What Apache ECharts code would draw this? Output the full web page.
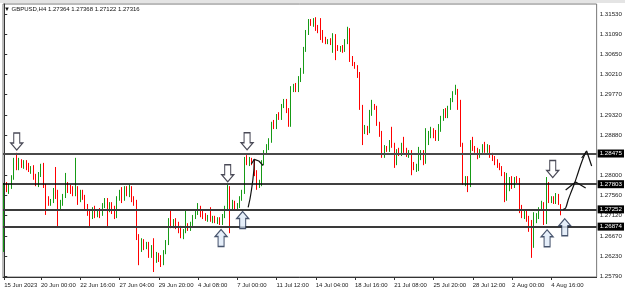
<!DOCTYPE html>
<html><head><meta charset="utf-8">
<script src="https://cdn.jsdelivr.net/npm/echarts@6/dist/echarts.min.js"></script>
<style>html,body{margin:0;padding:0;background:#fff;overflow:hidden}#c{width:625px;height:293px}</style>
</head><body><div id="c"></div>
<script>
const header = '\u25BC GBPUSD,H4 1.27364 1.27368 1.27122 1.27316';
const tickLabels = ['15 Jun 2023','20 Jun 00:00','22 Jun 16:00','27 Jun 04:00','29 Jun 20:00','4 Jul 08:00','7 Jul 00:00','11 Jul 12:00','14 Jul 04:00','18 Jul 16:00','21 Jul 08:00','25 Jul 20:00','28 Jul 12:00','2 Aug 00:00','4 Aug 16:00'];
const tickIndex = [0,15,31,47,63,79,95,111,127,143,159,175,191,207,223];
const slotCount = 242;
const priceTicks = [1.31530,1.31090,1.30650,1.30210,1.29770,1.29320,1.28880,1.28000,1.27560,1.27120,1.26670,1.26230,1.25790];
const priceMin = 1.25771, priceMax = 1.31749;
// [open, high, low, close]
const bars = [
[1.2641,1.2783,1.2632,1.2776],[1.2776,1.2785,1.2763,1.2770],[1.2770,1.2781,1.2759,1.2776],[1.2776,1.2800,1.2770,1.2794],
[1.2794,1.2838,1.2790,1.2829],[1.2829,1.2849,1.2811,1.2818],[1.2818,1.2838,1.2811,1.2831],[1.2831,1.2835,1.2816,1.2822],
[1.2822,1.2833,1.2814,1.2827],[1.2827,1.2833,1.2811,1.2816],[1.2816,1.2827,1.2807,1.2811],[1.2811,1.2820,1.2803,1.2818],
[1.2818,1.2822,1.2790,1.2796],[1.2796,1.2803,1.2776,1.2785],[1.2785,1.2807,1.2774,1.2800],[1.2800,1.2825,1.2796,1.2820],
[1.2820,1.2827,1.2772,1.2776],[1.2776,1.2781,1.2713,1.2746],[1.2746,1.2754,1.2733,1.2739],[1.2739,1.2748,1.2733,1.2744],
[1.2744,1.2772,1.2739,1.2768],[1.2768,1.2818,1.2748,1.2754],[1.2754,1.2768,1.2687,1.2728],[1.2728,1.2746,1.2722,1.2739],
[1.2739,1.2759,1.2733,1.2754],[1.2754,1.2805,1.2750,1.2781],[1.2781,1.2785,1.2761,1.2768],[1.2768,1.2779,1.2759,1.2763],
[1.2763,1.2776,1.2754,1.2759],[1.2759,1.2838,1.2754,1.2772],[1.2772,1.2776,1.2735,1.2746],[1.2746,1.2768,1.2741,1.2761],
[1.2761,1.2768,1.2746,1.2750],[1.2750,1.2757,1.2724,1.2730],[1.2730,1.2737,1.2711,1.2717],[1.2717,1.2724,1.2687,1.2708],
[1.2708,1.2730,1.2704,1.2726],[1.2726,1.2733,1.2706,1.2713],[1.2713,1.2726,1.2708,1.2722],[1.2722,1.2728,1.2706,1.2715],
[1.2715,1.2739,1.2711,1.2735],[1.2735,1.2750,1.2728,1.2746],[1.2746,1.2750,1.2687,1.2724],[1.2724,1.2741,1.2719,1.2737],
[1.2737,1.2741,1.2715,1.2722],[1.2722,1.2733,1.2704,1.2711],[1.2711,1.2754,1.2706,1.2750],[1.2750,1.2768,1.2744,1.2763],
[1.2763,1.2774,1.2739,1.2748],[1.2748,1.2776,1.2744,1.2770],[1.2770,1.2776,1.2754,1.2759],[1.2759,1.2779,1.2752,1.2772],
[1.2772,1.2776,1.2741,1.2748],[1.2748,1.2754,1.2733,1.2739],[1.2739,1.2746,1.2658,1.2665],[1.2665,1.2671,1.2603,1.2636],
[1.2636,1.2662,1.2632,1.2656],[1.2656,1.2660,1.2636,1.2643],[1.2643,1.2654,1.2638,1.2649],[1.2649,1.2654,1.2619,1.2625],
[1.2625,1.2647,1.2619,1.2643],[1.2643,1.2662,1.2588,1.2614],[1.2614,1.2632,1.2608,1.2625],[1.2625,1.2630,1.2610,1.2616],
[1.2616,1.2625,1.2599,1.2610],[1.2610,1.2636,1.2603,1.2632],[1.2632,1.2658,1.2627,1.2652],[1.2652,1.2706,1.2647,1.2702],
[1.2702,1.2724,1.2684,1.2691],[1.2691,1.2704,1.2684,1.2700],[1.2700,1.2706,1.2682,1.2689],[1.2689,1.2698,1.2673,1.2680],
[1.2680,1.2689,1.2662,1.2667],[1.2667,1.2682,1.2660,1.2678],[1.2678,1.2724,1.2673,1.2687],[1.2687,1.2695,1.2678,1.2682],
[1.2682,1.2698,1.2678,1.2693],[1.2693,1.2713,1.2689,1.2708],[1.2708,1.2722,1.2704,1.2717],[1.2717,1.2739,1.2713,1.2728],
[1.2728,1.2733,1.2708,1.2715],[1.2715,1.2722,1.2704,1.2708],[1.2708,1.2717,1.2700,1.2704],[1.2704,1.2713,1.2698,1.2708],
[1.2708,1.2730,1.2698,1.2702],[1.2702,1.2711,1.2695,1.2706],[1.2706,1.2711,1.2695,1.2700],[1.2700,1.2708,1.2693,1.2704],
[1.2704,1.2708,1.2691,1.2695],[1.2695,1.2715,1.2691,1.2711],[1.2711,1.2733,1.2706,1.2726],[1.2726,1.2779,1.2722,1.2772],
[1.2772,1.2776,1.2673,1.2728],[1.2728,1.2746,1.2722,1.2739],[1.2739,1.2744,1.2724,1.2730],[1.2730,1.2739,1.2724,1.2735],
[1.2735,1.2754,1.2728,1.2748],[1.2748,1.2768,1.2744,1.2763],[1.2763,1.2840,1.2759,1.2833],[1.2833,1.2844,1.2822,1.2827],
[1.2827,1.2840,1.2820,1.2833],[1.2833,1.2838,1.2822,1.2829],[1.2829,1.2833,1.2798,1.2805],[1.2805,1.2811,1.2768,1.2779],
[1.2779,1.2790,1.2772,1.2783],[1.2783,1.2833,1.2776,1.2827],[1.2827,1.2855,1.2822,1.2851],[1.2851,1.2868,1.2846,1.2864],
[1.2864,1.2881,1.2855,1.2875],[1.2875,1.2917,1.2871,1.2912],[1.2912,1.2921,1.2901,1.2906],[1.2906,1.2934,1.2901,1.2930],
[1.2930,1.2938,1.2921,1.2925],[1.2925,1.2956,1.2921,1.2952],[1.2952,1.2967,1.2947,1.2963],[1.2963,1.2967,1.2936,1.2941],
[1.2941,1.2947,1.2906,1.2912],[1.2912,1.2995,1.2906,1.2989],[1.2989,1.3000,1.2982,1.2995],[1.2995,1.3002,1.2982,1.2991],
[1.2991,1.3017,1.2982,1.3011],[1.3011,1.3035,1.3004,1.3028],[1.3028,1.3081,1.3022,1.3074],[1.3074,1.3118,1.3070,1.3111],
[1.3111,1.3142,1.3107,1.3136],[1.3136,1.3142,1.3127,1.3129],[1.3129,1.3144,1.3125,1.3140],[1.3140,1.3146,1.3116,1.3120],
[1.3120,1.3129,1.3111,1.3116],[1.3116,1.3144,1.3096,1.3111],[1.3111,1.3118,1.3090,1.3094],[1.3094,1.3103,1.3087,1.3092],
[1.3092,1.3098,1.3087,1.3096],[1.3096,1.3100,1.3085,1.3090],[1.3090,1.3111,1.3068,1.3105],[1.3105,1.3109,1.3052,1.3081],
[1.3081,1.3085,1.3072,1.3076],[1.3076,1.3083,1.3070,1.3081],[1.3081,1.3085,1.3068,1.3074],[1.3074,1.3098,1.3070,1.3094],
[1.3094,1.3125,1.3087,1.3109],[1.3109,1.3122,1.3048,1.3057],[1.3057,1.3061,1.3039,1.3044],[1.3044,1.3048,1.3033,1.3037],
[1.3037,1.3041,1.3013,1.3022],[1.3022,1.3026,1.2943,1.2949],[1.2949,1.2954,1.2866,1.2899],[1.2899,1.2910,1.2890,1.2903],
[1.2903,1.2908,1.2888,1.2897],[1.2897,1.2943,1.2892,1.2936],[1.2936,1.2965,1.2930,1.2949],[1.2949,1.2956,1.2943,1.2947],
[1.2947,1.2952,1.2908,1.2912],[1.2912,1.2917,1.2884,1.2890],[1.2890,1.2897,1.2838,1.2842],[1.2842,1.2866,1.2838,1.2860],
[1.2860,1.2864,1.2851,1.2855],[1.2855,1.2877,1.2851,1.2873],[1.2873,1.2906,1.2860,1.2866],[1.2866,1.2871,1.2816,1.2827],
[1.2827,1.2857,1.2822,1.2853],[1.2853,1.2860,1.2842,1.2846],[1.2846,1.2871,1.2842,1.2860],[1.2860,1.2884,1.2849,1.2853],
[1.2853,1.2860,1.2840,1.2844],[1.2844,1.2855,1.2838,1.2849],[1.2849,1.2855,1.2800,1.2822],[1.2822,1.2829,1.2811,1.2816],
[1.2816,1.2825,1.2807,1.2820],[1.2820,1.2862,1.2809,1.2840],[1.2840,1.2855,1.2833,1.2851],[1.2851,1.2855,1.2822,1.2829],
[1.2829,1.2903,1.2825,1.2871],[1.2871,1.2897,1.2866,1.2890],[1.2890,1.2906,1.2881,1.2899],[1.2899,1.2903,1.2881,1.2886],
[1.2886,1.2899,1.2875,1.2879],[1.2879,1.2912,1.2875,1.2908],[1.2908,1.2930,1.2895,1.2923],[1.2923,1.2945,1.2919,1.2941],
[1.2941,1.2947,1.2925,1.2930],[1.2930,1.2952,1.2925,1.2947],[1.2947,1.2969,1.2943,1.2965],[1.2965,1.2984,1.2960,1.2980],
[1.2980,1.2998,1.2976,1.2984],[1.2984,1.2989,1.2943,1.2952],[1.2952,1.2965,1.2862,1.2866],[1.2866,1.2871,1.2779,1.2783],
[1.2783,1.2798,1.2776,1.2794],[1.2794,1.2798,1.2763,1.2779],[1.2779,1.2877,1.2774,1.2871],[1.2871,1.2884,1.2853,1.2857],
[1.2857,1.2864,1.2849,1.2853],[1.2853,1.2860,1.2835,1.2842],[1.2842,1.2857,1.2838,1.2855],[1.2855,1.2868,1.2849,1.2862],
[1.2862,1.2873,1.2849,1.2853],[1.2853,1.2868,1.2849,1.2862],[1.2862,1.2866,1.2838,1.2844],[1.2844,1.2849,1.2831,1.2835],
[1.2835,1.2842,1.2822,1.2829],[1.2829,1.2835,1.2816,1.2820],[1.2820,1.2827,1.2811,1.2816],[1.2816,1.2820,1.2798,1.2803],
[1.2803,1.2807,1.2741,1.2748],[1.2748,1.2805,1.2744,1.2779],[1.2779,1.2796,1.2765,1.2790],[1.2790,1.2798,1.2770,1.2776],
[1.2776,1.2796,1.2772,1.2792],[1.2792,1.2798,1.2783,1.2787],[1.2787,1.2794,1.2717,1.2730],[1.2730,1.2735,1.2706,1.2713],
[1.2713,1.2722,1.2704,1.2717],[1.2717,1.2722,1.2698,1.2704],[1.2704,1.2711,1.2676,1.2687],[1.2687,1.2702,1.2619,1.2645],
[1.2645,1.2719,1.2641,1.2702],[1.2702,1.2717,1.2695,1.2711],[1.2711,1.2730,1.2704,1.2726],[1.2726,1.2744,1.2722,1.2737],
[1.2737,1.2741,1.2691,1.2698],[1.2698,1.2796,1.2693,1.2781],[1.2781,1.2785,1.2739,1.2746],[1.2746,1.2754,1.2739,1.2750],
[1.2750,1.2754,1.2737,1.2741],[1.2741,1.2761,1.2737,1.2754],[1.2754,1.2759,1.2735,1.2739],[1.27364,1.27368,1.27122,1.27316]
];
const levels = [1.28475, 1.27803, 1.27252, 1.26874];
// annotation anchors: [bar position, price]
const downArrows = [[5.1,1.28738],[91.1,1.28042],[99.0,1.28743],[223.6,1.28136]];
const upArrows = [[88.4,1.26625],[97.2,1.27019],[221.3,1.26618],[228.5,1.26861]];
const penStrokes = [
  [[99.44,1.27297],[100.25,1.27501],[100.78,1.27676],[101.35,1.27895],[101.76,1.28114],[101.92,1.28348]],
  [[100.74,1.28245],[101.92,1.28348],[103.8,1.28311],[105.55,1.28213]],
  [[227.85,1.27249],[228.87,1.27282],[229.89,1.27457],[231.11,1.27632],[232.54,1.27829],[233.76,1.28026],[234.99,1.28224],[236.21,1.28399],[237.43,1.28530]],
  [[228.87,1.27676],[232.95,1.27851],[237.03,1.27720]],
  [[235.39,1.28377],[237.43,1.28530],[239.47,1.28202]]
];

const FONT = '"Liberation Sans", Arial, sans-serif';
const categories = Array.from({length: slotCount}, (_, k) => {
  const j = tickIndex.indexOf(k); return j >= 0 ? tickLabels[j] : '#' + k;
});
const showTick = (idx) => tickIndex.indexOf(idx) >= 0;
const levelStyles = [
  {color:'#4a4a4a', width:2}, {color:'#000', width:1.5}, {color:'#3a3a3a', width:2}, {color:'#3a3a3a', width:2}
];
const downPath = 'path://M3,0 L9,0 L9,10 L12,10 L6,17 L0,10 L3,10 Z';
const upPath = 'path://M6,0 L12,7 L9,7 L9,17 L3,17 L3,7 L0,7 Z';

const chart = echarts.init(document.getElementById('c'), null, {renderer:'canvas'});
const option = {
  animation: false,
  backgroundColor: '#fff',
  grid: {left: 3, right: 28, top: 4, bottom: 16, show: true, borderColor: '#777', borderWidth: 1},
  xAxis: [{
    type: 'category', data: categories, boundaryGap: true,
    axisLine: {show: true, lineStyle: {color: '#333', width: 1}},
    axisTick: {show: true, alignWithLabel: true, interval: showTick, length: 3, lineStyle: {color: '#333'}},
    axisLabel: {interval: showTick, formatter: (v) => v.charAt(0) === '#' ? '' : v, align: 'left', margin: 5,
      fontSize: 6, fontFamily: FONT, color: '#222'},
    splitLine: {show: false}
  }, {
    type: 'value', min: -0.5, max: slotCount - 0.5, show: false
  }],
  yAxis: {
    type: 'value', position: 'right', min: priceMin, max: priceMax, scale: true,
    axisLine: {show: true, lineStyle: {color: '#333', width: 1}},
    axisTick: {show: true, customValues: priceTicks, length: 3, lineStyle: {color: '#333'}},
    axisLabel: {customValues: priceTicks, formatter: (v) => v.toFixed(5), margin: 3, fontSize: 6.2,
      fontFamily: FONT, color: '#222'},
    splitLine: {show: false}
  },
  graphic: [
    {type: 'rect', left: 0, top: 0, shape: {width: 625, height: 3}, style: {fill: '#e4e4e4'}},
    {type: 'text', left: 4, top: 6, style: {text: header, font: '6px ' + FONT, fill: '#111'}}
  ],
  series: [{
    type: 'candlestick', xAxisIndex: 0,
    data: bars.map(b => [b[0], b[3], b[2], b[1]]),
    barWidth: 1,
    itemStyle: {color: '#169a16', color0: '#ff0000', borderColor: '#169a16', borderColor0: '#ff0000', borderWidth: 1},
    markLine: {
      silent: true, symbol: 'none', animation: false, precision: 5,
      data: levels.map((v, k) => ({yAxis: v, lineStyle: {color: levelStyles[k].color, width: levelStyles[k].width, type: 'solid'}})),
      label: {show: true, position: 'end', distance: 1, formatter: (p) => Number(p.value).toFixed(5),
        backgroundColor: '#000', color: '#fff', fontSize: 6.2, fontFamily: FONT, padding: [1, 2, 1, 2]}
    }
  }, {
    type: 'scatter', xAxisIndex: 1, data: downArrows, symbol: downPath, symbolSize: [12, 17],
    itemStyle: {color: '#fff', borderColor: '#1c1c2c', borderWidth: 1.2}, z: 5, silent: true
  }, {
    type: 'scatter', xAxisIndex: 1, data: upArrows, symbol: upPath, symbolSize: [12, 17],
    itemStyle: {color: '#dfeaf8', borderColor: '#1c2a48', borderWidth: 1.2}, z: 5, silent: true
  }].concat(penStrokes.map((s, k) => ({
    type: 'line', xAxisIndex: 1, data: s, showSymbol: false, symbol: 'none', smooth: (k === 0 || k === 2) ? 0.3 : false,
    lineStyle: {color: '#111', width: 1.2}, z: 6, silent: true, clip: false
  })))
};
chart.setOption(option);
</script>
</body></html>
